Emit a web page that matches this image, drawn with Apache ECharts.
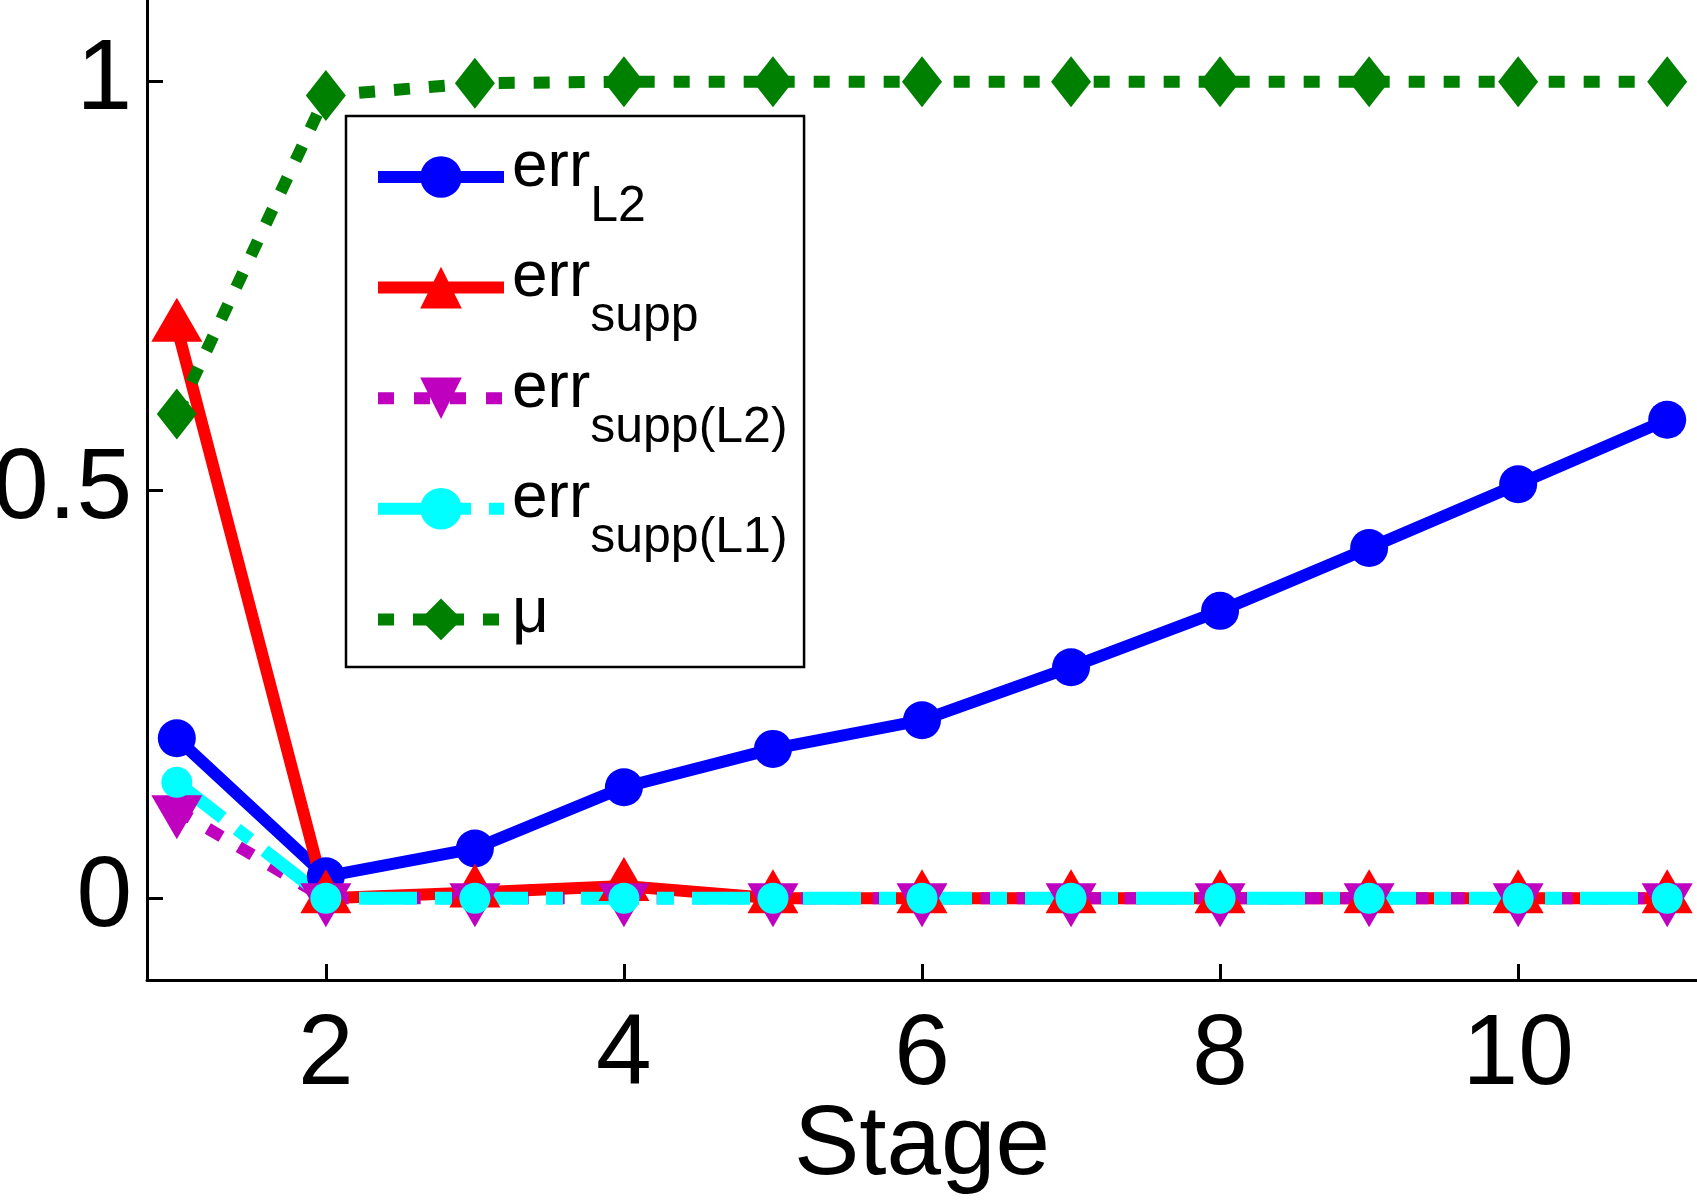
<!DOCTYPE html>
<html>
<head>
<meta charset="utf-8">
<title>Stage errors</title>
<script src="https://cdn.jsdelivr.net/npm/echarts@6/dist/echarts.min.js"></script>
<style>
  html, body { margin: 0; padding: 0; background: #fff; }
  #chart { width: 1697px; height: 1200px; }
</style>
</head>
<body>
<div id="chart"></div>
<script>
/* data */
const stages = [1, 2, 3, 4, 5, 6, 7, 8, 9, 10, 11];
const errL2 = [0.196, 0.027, 0.061, 0.136, 0.183, 0.218, 0.283, 0.352, 0.429, 0.507, 0.586];
const errSupp = [0.70, 0, 0.007, 0.015, 0, 0, 0, 0, 0, 0, 0];
const errSuppL2 = [0.108, 0, 0, 0, 0, 0, 0, 0, 0, 0, 0];
const errSuppL1 = [0.142, 0, 0, 0, 0, 0, 0, 0, 0, 0, 0];
const mu = [0.593, 0.983, 0.998, 1, 1, 1, 1, 1, 1, 1, 1];
const xTicks = [2, 4, 6, 8, 10];
const yTicks = [0, 0.5, 1];

const FONT = "'Liberation Sans', Arial, Helvetica, sans-serif";

/* pair stage with value */
function points(values) {
  return stages.map(function (s, i) {
    return [s, values[i]];
  });
}

/* one line series */
function lineSeries(name, values, color, dash, width, symbol, size, extra) {
  let s = {
    name: name,
    type: "line",
    data: points(values),
    symbol: symbol,
    symbolSize: size,
    showSymbol: true,
    lineStyle: { color: color, width: width, type: dash, cap: "butt", join: "miter" },
    itemStyle: { color: color, borderWidth: 0 },
    emphasis: { disabled: true },
    animation: false,
  };
  return Object.assign(s, extra || {});
}

/* legend labels with subscripts (mu row gets a short empty subscript) */
const legendText = {
  errL2: "{a|err}{b|L2}",
  errSupp: "{a|err}{b|supp}",
  errSuppL2: "{a|err}{b|supp(L2)}",
  errSuppL1: "{a|err}{b|supp(L1)}",
  mu: "{m|\u03bc}{s|\u00a0}",
};

let myChart = echarts.init(document.getElementById("chart"), null, { renderer: "canvas" });
let option = {
  backgroundColor: "#fff",
  animation: false,
  grid: { left: 147, right: 0, top: 0, bottom: 220, containLabel: false, outerBoundsMode: "none" },
  xAxis: {
    type: "value",
    min: 0.8,
    max: 11.2,
    name: "Stage",
    nameLocation: "middle",
    nameGap: 118,
    nameMoveOverlap: false,
    nameTextStyle: { fontSize: 98, fontFamily: FONT, color: "#000" },
    axisLine: { show: true, onZero: false, lineStyle: { color: "#000", width: 3 } },
    axisTick: { show: true, inside: true, length: 16, customValues: xTicks, lineStyle: { color: "#000", width: 3 } },
    axisLabel: { show: true, customValues: xTicks, margin: 26, fontSize: 100, fontFamily: FONT, color: "#000" },
    splitLine: { show: false },
  },
  yAxis: {
    type: "value",
    min: -0.1,
    max: 1.1,
    axisLine: { show: true, onZero: false, lineStyle: { color: "#000", width: 3 } },
    axisTick: { show: true, inside: true, length: 16, customValues: yTicks, lineStyle: { color: "#000", width: 3 } },
    axisLabel: { show: true, customValues: yTicks, margin: 15, fontSize: 100, fontFamily: FONT, color: "#000" },
    splitLine: { show: false },
  },
  legend: {
    orient: "vertical",
    left: 346,
    top: 116,
    padding: [17, 16.5, 4.6, 26],
    itemGap: 11.8,
    itemWidth: 126,
    itemHeight: 52,
    backgroundColor: "#fff",
    borderColor: "#000",
    borderWidth: 2.5,
    borderRadius: 0,
    selectedMode: false,
    lineStyle: { width: 12 },
    formatter: function (name) {
      return legendText[name];
    },
    textStyle: {
      fontFamily: FONT,
      color: "#000",
      rich: {
        a: { fontSize: 64, lineHeight: 88, fontFamily: FONT, color: "#000", verticalAlign: "top", padding: [3, 0, 0, 3] },
        b: { fontSize: 50, lineHeight: 50, fontFamily: FONT, color: "#000", verticalAlign: "top", padding: [48.8, 0, 0, 0] },
        m: { fontSize: 64, lineHeight: 88, fontFamily: FONT, color: "#000", verticalAlign: "top", padding: [7, 0, 0, 3] },
        s: { fontSize: 50, lineHeight: 50, fontFamily: FONT, color: "#000", verticalAlign: "top", padding: [37, 0, 0, 0] },
      },
    },
    data: ["errL2", "errSupp", "errSuppL2", "errSuppL1", "mu"],
  },
  series: [
    lineSeries("errL2", errL2, "#0000ff", "solid", 12, "circle", 38),
    lineSeries("errSupp", errSupp, "#ff0000", "solid", 12, "triangle", [51, 44], { symbolOffset: [0, -7] }),
    lineSeries("errSuppL2", errSuppL2, "#bf00bf", [16, 20], 12, "triangle", [51, 44], { symbolRotate: 180, symbolOffset: [0, 7] }),
    lineSeries("errSuppL1", errSuppL1, "#00ffff", [58, 18, 17, 18], 13, "circle", 31),
    lineSeries("mu", mu, "#008000", [16, 19], 12, "diamond", [40, 51]),
  ],
};
myChart.setOption(option);
</script>
</body>
</html>
